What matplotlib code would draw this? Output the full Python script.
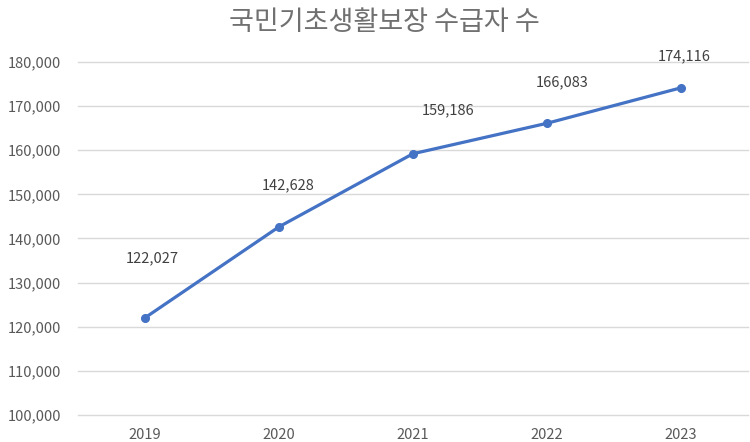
import matplotlib
matplotlib.use("Agg")
import matplotlib.pyplot as plt

years = ["2019", "2020", "2021", "2022", "2023"]
recipients = [122027, 142628, 159186, 166083, 174116]
# label offsets in pixels (dx, dy), as placed on the original chart
label_dx = [7, 9, 35, 15, 3]
label_dy = [60, 42, 43, 41, 32]

plt.rcParams["font.family"] = ["Noto Sans CJK KR", "DejaVu Sans"]

fig = plt.figure(figsize=(7.5, 4.42), dpi=100)
ax = fig.add_axes([0.104, 0.061, 0.893, 0.799])

x = list(range(len(years)))
ax.plot(x, recipients, color="#4472C4", linewidth=2.3, marker="o", markersize=5.5, zorder=3)

px_to_pt = 72 / 100
for xi, v, dx, dy in zip(x, recipients, label_dx, label_dy):
    ax.annotate(f"{v:,}", (xi, v), xytext=(dx * px_to_pt, dy * px_to_pt),
                textcoords="offset points", ha="center", va="center",
                fontsize=10.5, color="#404040")

ax.set_xlim(-0.5, len(years) - 0.5)
ax.set_ylim(100000, 180000)
ax.set_yticks(range(100000, 180001, 10000))
ax.yaxis.set_major_formatter(matplotlib.ticker.FuncFormatter(lambda v, p: f"{int(v):,}"))
ax.set_xticks(x)
ax.set_xticklabels(years)
ax.tick_params(length=0, labelsize=10.5, labelcolor="#595959")
ax.tick_params(axis="y", pad=12)
ax.tick_params(axis="x", pad=9)
ax.grid(axis="y", color="#D9D9D9", linewidth=1)
for gl in ax.get_ygridlines():
    gl.set_clip_on(False)
ax.set_axisbelow(True)
for s in ax.spines.values():
    s.set_visible(False)

fig.text(0.513, 0.95, "국민기초생활보장 수급자 수", ha="center", va="center",
         fontsize=19.5, color="#707070", fontweight="light")

fig.savefig("out.png", dpi=100)
